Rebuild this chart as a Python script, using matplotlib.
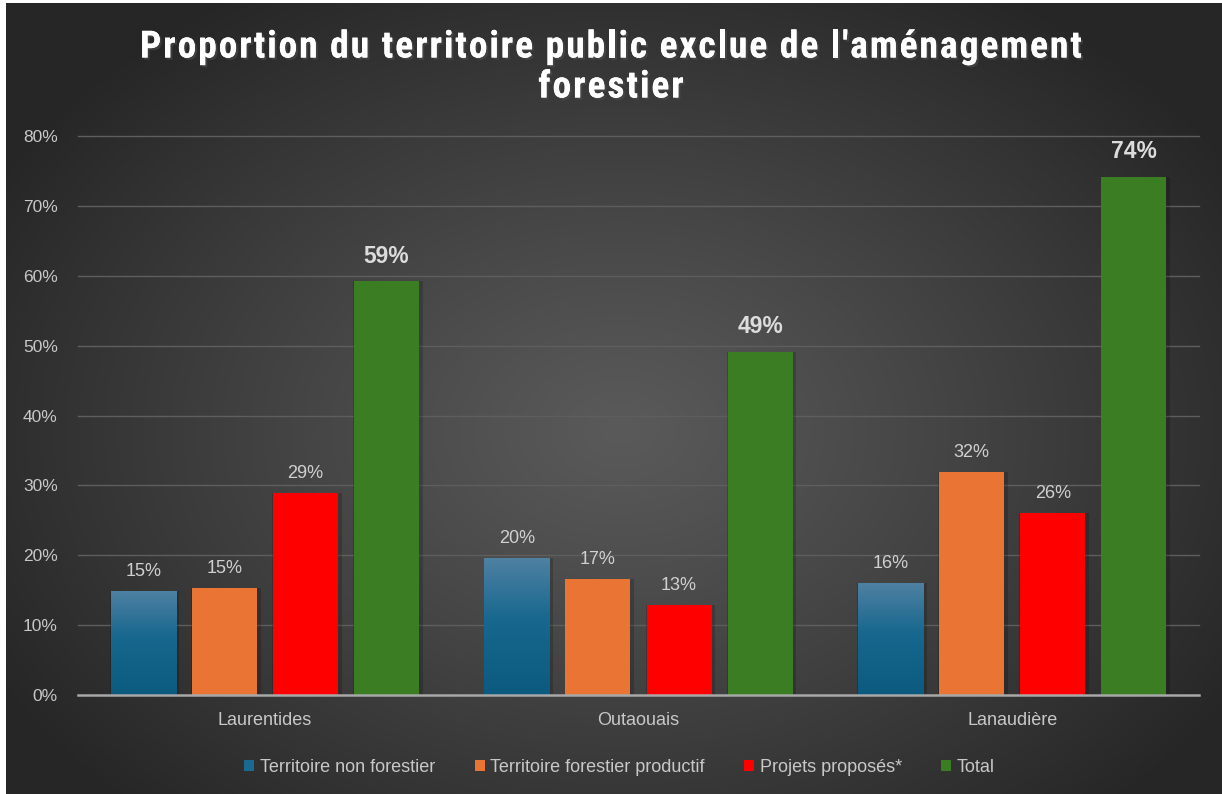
import numpy as np
import matplotlib
matplotlib.use("Agg")
import matplotlib.pyplot as plt
import matplotlib.patheffects as pe
from matplotlib.colors import LinearSegmentedColormap, to_rgb
from matplotlib.patches import Rectangle

regions = ["Laurentides", "Outaouais", "Lanaudière"]
series = ["Territoire non forestier", "Territoire forestier productif",
          "Projets proposés*", "Total"]
non_forestier = [0.149, 0.196, 0.160]
forestier_prod = [0.153, 0.166, 0.319]
projets = [0.289, 0.129, 0.260]
total = [0.592, 0.491, 0.741]
labels_non_forestier = ["15%", "20%", "16%"]
labels_forestier_prod = ["15%", "17%", "32%"]
labels_projets = ["29%", "13%", "26%"]
labels_total = ["59%", "49%", "74%"]
yticks = [0, 0.1, 0.2, 0.3, 0.4, 0.5, 0.6, 0.7, 0.8]
title_lines = ["Proportion du territoire public exclue de l'aménagement", "forestier"]

colors = ["#1a6990", "#e97434", "#ff0000", "#3b7d23"]
txt_col = "#c8c8c8"
sans = ["Liberation Sans", "DejaVu Sans"]
narrow = ["Roboto Condensed", "Liberation Sans Narrow", "DejaVu Sans"]

W, H = 1222, 794
fig = plt.figure(figsize=(W / 100, H / 100), dpi=100)

# radial background
bg = fig.add_axes([0, 0, 1, 1], zorder=-10)
yy, xx = np.mgrid[0:H, 0:W]
d = np.sqrt(((xx - 620) / 720.0) ** 2 + ((yy - 430) / 520.0) ** 2)
d = np.clip(d, 0, 1) ** 1.1
c_in = np.array(to_rgb("#5a5a5a"))
c_out = np.array(to_rgb("#262626"))
img = c_in[None, None, :] * (1 - d[..., None]) + c_out[None, None, :] * d[..., None]
bg.imshow(img, extent=(0, W, H, 0), aspect="auto")
bg.set_xlim(0, W)
bg.set_ylim(H, 0)
bg.axis("off")
bg.add_patch(Rectangle((0, 0), 6, H, color="white", lw=0))
bg.add_patch(Rectangle((0, 0), W, 3, color="white", lw=0))

ax = fig.add_axes([78 / W, 1 - 695 / H, (1199 - 78) / W, (695 - 136) / H])
ax.patch.set_alpha(0)

x = np.arange(len(regions))
width = 0.174
step = 0.217
offsets = [-1.5 * step, -0.5 * step, 0.5 * step, 1.5 * step]
data = [non_forestier, forestier_prod, projets, total]
labs = [labels_non_forestier, labels_forestier_prod, labels_projets, labels_total]

blue_cmap = LinearSegmentedColormap.from_list(
    "b", [(0, "#0c5a7f"), (0.55, "#17678e"), (1.0, "#4f81a2")])

for k in range(4):
    # shadow
    ax.bar(x + offsets[k] + 0.004, data[k], width + 0.012, color="black",
           alpha=0.18, zorder=2, lw=0)
    bars = ax.bar(x + offsets[k], data[k], width, color=colors[k], zorder=3,
                  lw=0, label=series[k])
    if k == 0:
        for b in bars:
            x0 = b.get_x()
            h = b.get_height()
            grad = np.linspace(0, 1, 256).reshape(-1, 1)
            im = ax.imshow(grad, extent=(x0, x0 + width, 0, h), origin="lower",
                           cmap=blue_cmap, aspect="auto", zorder=4)
            im.set_clip_path(b)
    for i, v in enumerate(data[k]):
        if k == 3:
            ax.annotate(labs[k][i], (x[i] + offsets[k], v), xytext=(0, 13.5),
                        textcoords="offset points", ha="center", va="baseline",
                        fontsize=16.5, fontweight="bold", color="#dcdcdc",
                        family=sans)
        else:
            ax.annotate(labs[k][i], (x[i] + offsets[k], v), xytext=(0, 10.8),
                        textcoords="offset points", ha="center", va="baseline",
                        fontsize=13, color="#d0d0d0", family=sans)

ax.set_xlim(-0.5, 2.5)
ax.set_ylim(0, 0.8)
ax.set_yticks(yticks)
ax.set_yticklabels(["{:.0f}%".format(t * 100) for t in yticks], family=sans,
                   fontsize=12.5, color=txt_col)
ax.set_xticks(x)
ax.set_xticklabels(regions, family=sans, fontsize=13, color=txt_col)
ax.tick_params(axis="y", length=0, pad=14.5)
ax.tick_params(axis="x", length=0, pad=12)
for t in yticks[1:]:
    ax.axhline(t, color="#5e5e5e", lw=1.0, zorder=1, clip_on=False)
ax.axhline(0, color="#a8a8a8", lw=1.8, zorder=5, clip_on=False)
for s in ax.spines.values():
    s.set_visible(False)

# title with letter spacing, drawn char by char
renderer = fig.canvas.get_renderer()
tfont = dict(fontsize=27, fontweight="bold", family=narrow)
probe = fig.text(0, 0, "", **tfont)


def text_w(s):
    probe.set_text(s)
    return probe.get_window_extent(renderer).width


def advances(s):
    base = text_w("||")
    return [text_w("|" + c + "|") - base for c in s]


adv1 = advances(title_lines[0])
spacing = (942 - sum(adv1)) / (len(title_lines[0]) - 1)
shadow = [pe.withSimplePatchShadow(offset=(1.5, -1.5), alpha=0.6), pe.Normal()]
for line, yc in zip(title_lines, [47, 87]):
    adv = advances(line)
    total_w = sum(adv) + spacing * (len(line) - 1)
    xpos = W / 2 - total_w / 2
    for c, a in zip(line, adv):
        if c != " ":
            fig.text((xpos + a / 2) / W, 1 - yc / H, c, ha="center", va="center",
                     color="white", path_effects=shadow, **tfont)
        xpos += a + spacing
probe.remove()

leg = fig.legend(loc="center", bbox_to_anchor=(0.507, 1 - 767 / H), ncol=4,
                 frameon=False, handlelength=0.55, handleheight=0.55,
                 handletextpad=0.3, columnspacing=2.2,
                 prop={"family": sans, "size": 13})
for t in leg.get_texts():
    t.set_color(txt_col)

fig.savefig("out.png", dpi=100)
